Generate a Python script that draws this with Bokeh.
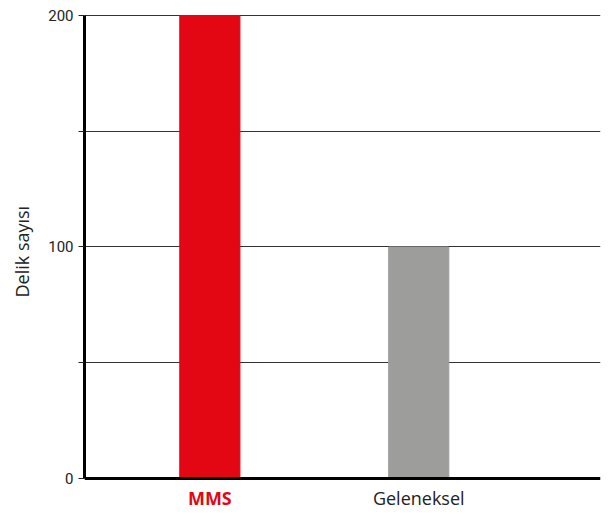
from bokeh.plotting import figure
from bokeh.models import FixedTicker, Range1d, Span, ColumnDataSource, Title
from bokeh.embed import file_html
from bokeh.resources import INLINE

categories = ["MMS", "Geleneksel"]
values = [200, 100]
bar_colors = ["#e30613", "#9d9d9c"]
label_colors = ["#e30613", "#222222"]
label_styles = ["bold", "normal"]
y_ticks = [0, 50, 100, 150, 200]
y_tick_labels = {0: "0", 50: "", 100: "100", 150: "", 200: "200"}
y_title = "Delik sayısı"

xs = [i + 1 for i in range(len(categories))]
src = ColumnDataSource(dict(x=xs, top=values, color=bar_colors,
                            name=categories, lc=label_colors, ls=label_styles,
                            base=[0] * len(categories)))

p = figure(width=601, height=511, output_backend="svg", toolbar_location=None,
           x_range=Range1d(0.4, 2.87), y_range=Range1d(-14.26, 200.43),
           x_axis_location=None,
           min_border_left=76, min_border_top=14, min_border_right=1, min_border_bottom=0)
p.outline_line_color = None
p.background_fill_color = "white"
p.border_fill_color = "white"

p.vbar(x="x", top="top", width=0.288, bottom=0, color="color", source=src)

p.xgrid.visible = False
p.ygrid.ticker = FixedTicker(ticks=[50, 100, 150, 200])
p.ygrid.grid_line_color = "#333333"
p.ygrid.grid_line_width = 1
p.ygrid.level = "underlay"

# baseline (x axis line)
p.add_layout(Span(location=0, dimension="width", line_color="black", line_width=3))

ya = p.yaxis[0]
ya.ticker = FixedTicker(ticks=y_ticks)
ya.bounds = (0, 200)
ya.major_label_overrides = y_tick_labels
ya.axis_line_width = 3
ya.axis_line_color = "black"
ya.major_tick_out = 6
ya.major_tick_in = 0
ya.major_tick_line_color = "#222222"
ya.minor_tick_line_color = None
ya.major_label_text_font = "Roboto"
ya.major_label_text_font_size = "15px"
ya.major_label_text_color = "#222222"
ya.major_label_standoff = 5

# y-axis title, placed along the 0-200 span
p.add_layout(Title(text=y_title, align="left", vertical_align="top", offset=214, standoff=19,
                   text_font="Open Sans", text_font_size="18px",
                   text_font_style="normal", text_color="#222222"), "left")

p.text(x="x", y="base", text="name", source=src, y_offset=20,
       text_align="center", text_baseline="middle", text_color="lc",
       text_font_style="ls", text_font_size="18px",
       text_font={"value": "Open Sans"})

open("out.html", "w").write(file_html(p, INLINE))
